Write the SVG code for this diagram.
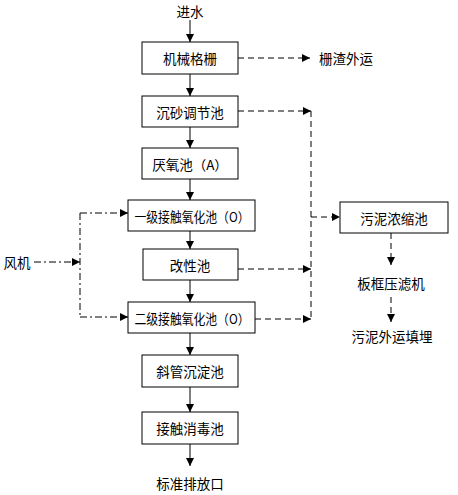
<svg xmlns="http://www.w3.org/2000/svg" width="458" height="495" viewBox="0 0 458 495">
<style>
text{font-family:"Noto Sans CJK SC","Noto Sans CJK JP",sans-serif;font-size:13.5px;fill:#000;text-anchor:middle;dominant-baseline:central}
rect{fill:#fff;stroke:#000;stroke-width:1}
.s{stroke:#000;stroke-width:1;fill:none}
.d{stroke:#000;stroke-width:1;fill:none;stroke-dasharray:6,4}
.dd{stroke:#000;stroke-width:1;fill:none;stroke-dasharray:7,3,2,3}
</style>
<defs>
<marker id="a" markerWidth="8" markerHeight="8" refX="8" refY="4" orient="auto" markerUnits="userSpaceOnUse"><path d="M0,0L8,4L0,8Z" fill="#000"/></marker>
</defs>
<rect width="458" height="495" style="fill:#fff;stroke:none"/>
<g id="connectors">
<line class="s" x1="190" y1="20" x2="190" y2="42" marker-end="url(#a)"/>
<line class="s" x1="190" y1="74" x2="190" y2="96" marker-end="url(#a)"/>
<line class="s" x1="190" y1="127" x2="190" y2="148" marker-end="url(#a)"/>
<line class="s" x1="190" y1="179" x2="190" y2="200" marker-end="url(#a)"/>
<line class="s" x1="190" y1="231" x2="190" y2="249" marker-end="url(#a)"/>
<line class="s" x1="190" y1="280" x2="190" y2="302" marker-end="url(#a)"/>
<line class="s" x1="190" y1="333" x2="190" y2="355" marker-end="url(#a)"/>
<line class="s" x1="190" y1="387" x2="190" y2="412" marker-end="url(#a)"/>
<line class="s" x1="190" y1="444" x2="190" y2="466" marker-end="url(#a)"/>
<line class="d" x1="238" y1="58" x2="310" y2="58" marker-end="url(#a)"/>
<line class="d" x1="238" y1="111" x2="311" y2="111" marker-end="url(#a)"/>
<line class="d" x1="238" y1="269" x2="311" y2="269" marker-end="url(#a)"/>
<line class="d" x1="255" y1="319" x2="311" y2="319" marker-end="url(#a)"/>
<line class="d" x1="311" y1="111" x2="311" y2="319"/>
<line class="d" x1="311" y1="217" x2="340" y2="217" marker-end="url(#a)"/>
<line class="d" x1="391" y1="233" x2="391" y2="265" marker-end="url(#a)"/>
<line class="d" x1="391" y1="297" x2="391" y2="322" marker-end="url(#a)"/>
<line class="dd" x1="34" y1="262" x2="80" y2="262" marker-end="url(#a)"/>
<line class="dd" x1="80" y1="213" x2="80" y2="317"/>
<line class="dd" x1="80" y1="213" x2="128" y2="213" marker-end="url(#a)"/>
<line class="dd" x1="80" y1="317" x2="128" y2="317" marker-end="url(#a)"/>
</g>
<g id="n-in"><text x="190" y="11">进水</text></g>
<g id="n1"><rect x="142" y="42" width="96" height="32"/><text x="190" y="58">机械格栅</text></g>
<g id="n-zha"><text x="346" y="58">栅渣外运</text></g>
<g id="n2"><rect x="142" y="96" width="96" height="31"/><text x="190" y="111.5">沉砂调节池</text></g>
<g id="n3"><rect x="142" y="148" width="96" height="31"/><text x="190" y="163.5">厌氧池（A）</text></g>
<g id="n4"><rect x="128" y="200" width="127" height="31"/><text x="192" y="215.5" textLength="115" lengthAdjust="spacingAndGlyphs">一级接触氧化池（O）</text></g>
<g id="n5"><rect x="143" y="249" width="95" height="31"/><text x="190" y="264.5">改性池</text></g>
<g id="n6"><rect x="128" y="302" width="127" height="31"/><text x="192" y="317.5" textLength="115" lengthAdjust="spacingAndGlyphs">二级接触氧化池（O）</text></g>
<g id="n7"><rect x="142" y="355" width="96" height="32"/><text x="190" y="371">斜管沉淀池</text></g>
<g id="n8"><rect x="142" y="412" width="96" height="32"/><text x="190" y="428">接触消毒池</text></g>
<g id="n-out"><text x="190" y="483">标准排放口</text></g>
<g id="n-fan"><text x="17" y="262">风机</text></g>
<g id="n9"><rect x="340" y="202" width="108" height="31"/><text x="394" y="217.5">污泥浓缩池</text></g>
<g id="n10"><text x="391" y="283">板框压滤机</text></g>
<g id="n11"><text x="392" y="336">污泥外运填埋</text></g>
</svg>
